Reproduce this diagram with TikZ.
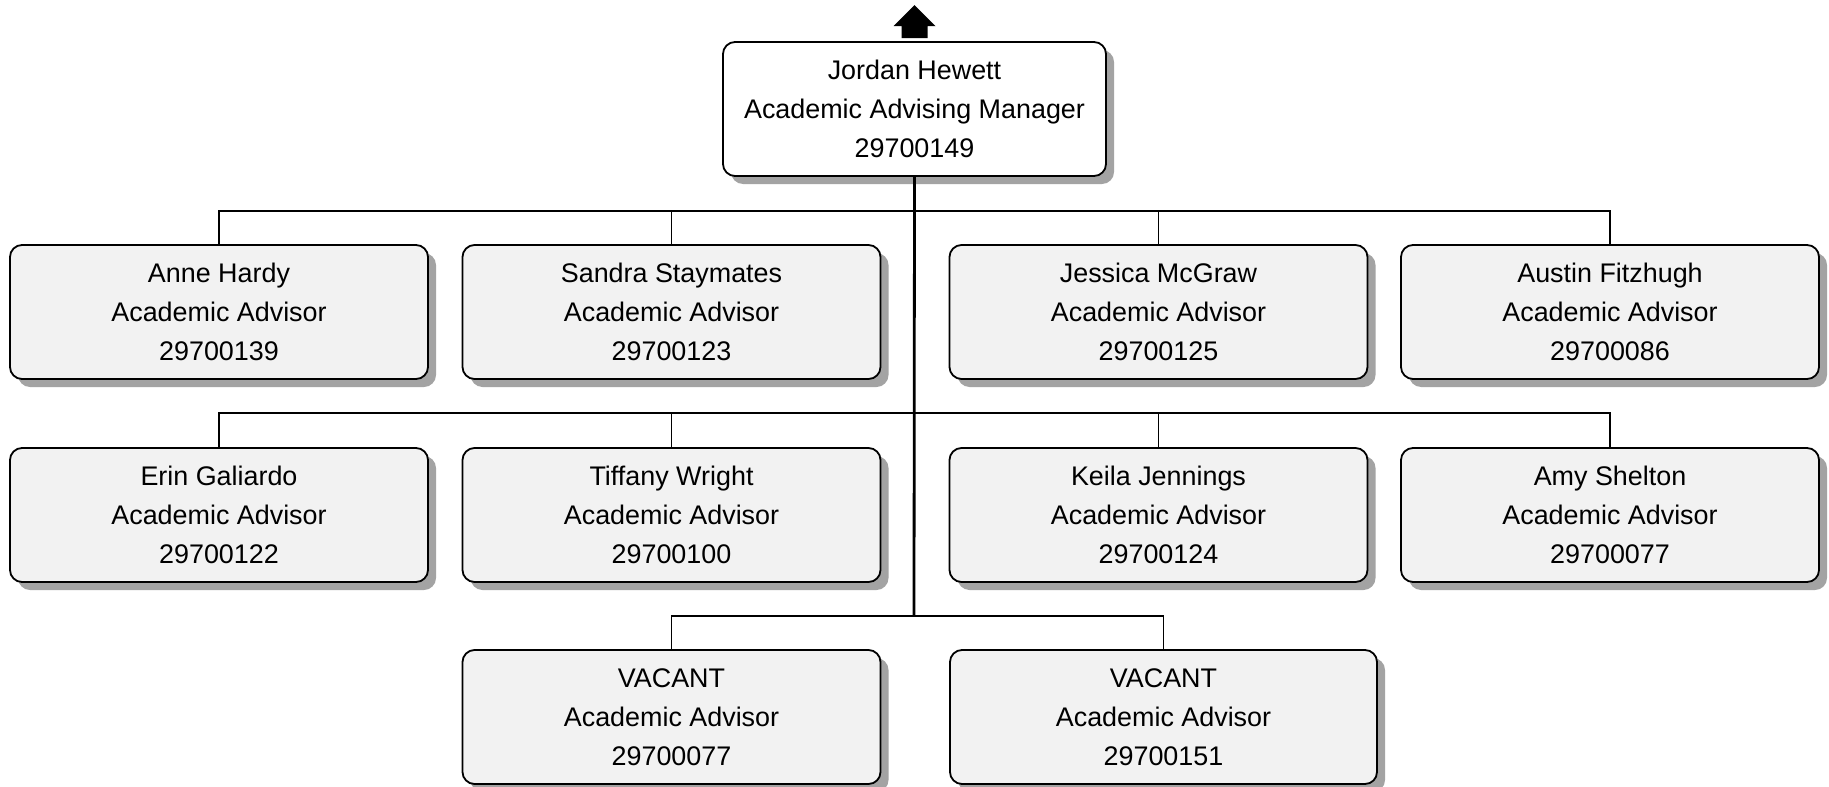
\documentclass[tikz,border=0pt]{standalone}
\usepackage{fontspec}
\setmainfont{Liberation Sans}
\usetikzlibrary{shadows}
\definecolor{boxfill}{HTML}{F2F2F2}
\definecolor{shadowgray}{HTML}{A3A3A3}
\begin{document}
\begin{tikzpicture}[x=1pt,y=-1pt,
  orgbox/.style={draw=black, line width=1.8pt, rounded corners=12pt, fill=boxfill,
    minimum width=418pt, minimum height=134pt, inner sep=0pt, align=center,
    font=\fontsize{26.9}{39}\selectfont,
    drop shadow={shadow xshift=8pt, shadow yshift=-8pt, fill=shadowgray, opacity=1}},
  topbox/.style={orgbox, fill=white, minimum width=383pt},
  wide/.style={minimum width=427pt},
  conn/.style={line width=1.9pt, draw=black},
  trunk/.style={line width=2.8pt, draw=black}]
\useasboundingbox (0,0) rectangle (1829,787);

\node[topbox] (top) at (914.5,109) {Jordan Hewett\\Academic Advising Manager\\29700149};

\node[orgbox] (anne)    at (219,312)    {Anne Hardy\\Academic Advisor\\29700139};
\node[orgbox] (sandra)  at (671.5,312)  {Sandra Staymates\\Academic Advisor\\29700123};
\node[orgbox] (jessica) at (1158.5,312) {Jessica McGraw\\Academic Advisor\\29700125};
\node[orgbox] (austin)  at (1610,312)   {Austin Fitzhugh\\Academic Advisor\\29700086};

\node[orgbox] (erin)    at (219,515)    {Erin Galiardo\\Academic Advisor\\29700122};
\node[orgbox] (tiffany) at (671.5,515)  {Tiffany Wright\\Academic Advisor\\29700100};
\node[orgbox] (keila)   at (1158.5,515) {Keila Jennings\\Academic Advisor\\29700124};
\node[orgbox] (amy)     at (1610,515)   {Amy Shelton\\Academic Advisor\\29700077};

\node[orgbox] (vac1) at (671.5,717)  {VACANT\\Academic Advisor\\29700077};
\node[orgbox, wide] (vac2) at (1163.5,717) {VACANT\\Academic Advisor\\29700151};

\coordinate (b1) at (914,211);
\coordinate (b2) at (914,413);
\coordinate (b3) at (914,616);

% row 1 bus
\draw[conn] (anne.north) -- (anne.north |- b1) -- (austin.north |- b1) -- (austin.north);
\draw[conn] (sandra.north) -- (sandra.north |- b1);
\draw[conn] (jessica.north) -- (jessica.north |- b1);
% row 2 bus
\draw[conn] (erin.north) -- (erin.north |- b2) -- (amy.north |- b2) -- (amy.north);
\draw[conn] (tiffany.north) -- (tiffany.north |- b2);
\draw[conn] (keila.north) -- (keila.north |- b2);
% row 3 bus
\draw[conn] (vac1.north) -- (vac1.north |- b3) -- (vac2.north |- b3) -- (vac2.north);
% trunk
\draw[trunk] (top.south) -- (b3);

% up arrow
\fill[black] ([shift={(-13,-3)}]top.north) -- ++(0,-12) -- ++(-8,0) -- ++(21,-21)
  -- ++(21,21) -- ++(-8,0) -- ++(0,12) -- cycle;
\end{tikzpicture}
\end{document}
